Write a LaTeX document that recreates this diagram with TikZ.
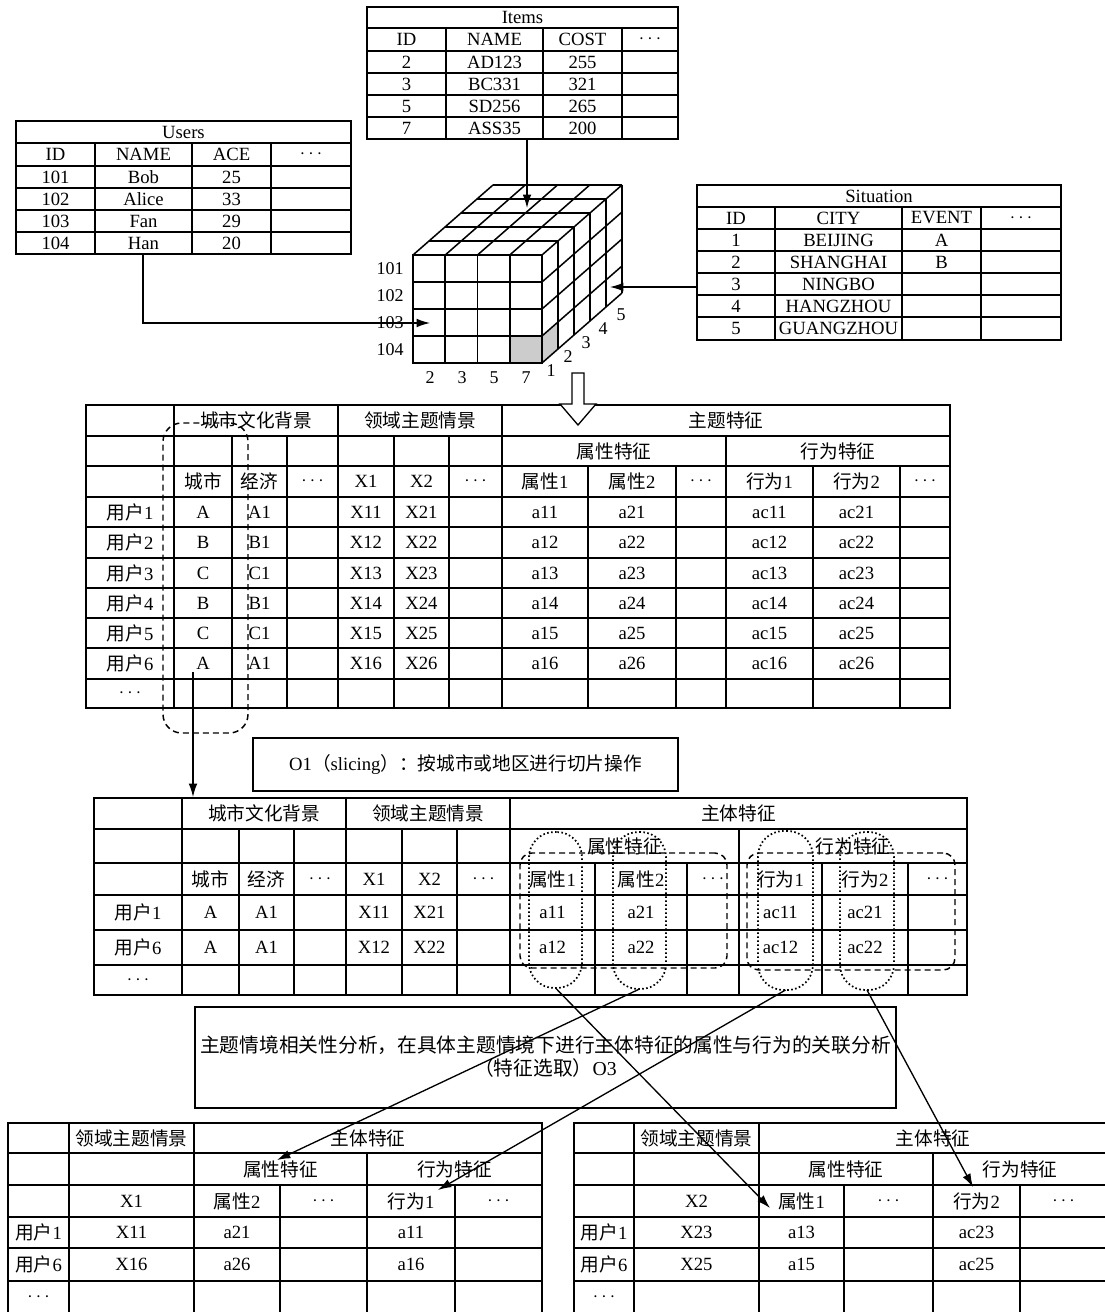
\documentclass[tikz,border=0pt]{standalone}
\usepackage{fontspec}
\setmainfont{Liberation Serif}
\newfontfamily\cjk{Noto Sans CJK SC}
\usetikzlibrary{arrows.meta}
\newcommand\zh[1]{{\cjk #1}}
\newcommand\dd{$\cdots$}
\newcounter{cellno}
\newcommand\tc[3]{\stepcounter{cellno}\node[cell] (cell\arabic{cellno}) at (#1,#2) {#3};}
% name, style, x1, y1, x2, y2 (pixel coordinates)
\newcommand\pxbox[6]{\node[#2, minimum width={(#5-#3)*0.75pt}, minimum height={(#6-#4)*0.75pt}, inner sep=0pt, outer sep=0pt] (#1) at ({(#3+#5)/2},{(#4+#6)/2}) {};}
\tikzset{
  cell/.style={font=\fontsize{14}{16}\selectfont, inner sep=0pt},
  cubelbl/.style={font=\fontsize{13.5}{15}\selectfont, inner sep=0pt},
  grid/.style={line width=1.15pt},
  arr/.style={line width=1pt, -{Latex[length=10pt,width=6.5pt]}},
  plainbox/.style={draw, line width=1.15pt},
  dashbox/.style={draw, line width=1.1pt, dash pattern=on 4.5pt off 3pt, rounded corners=9pt},
  dotbox/.style={draw, line width=1.3pt, dash pattern=on 1.2pt off 1.8pt, rounded corners=19pt},
}
\begin{document}
\begin{tikzpicture}[x=0.75pt,y=-0.75pt]
\useasboundingbox (0,0) rectangle (1105,1312);
\clip (0,0) rectangle (1105,1312);
\fill[white] (0,0) rectangle (1105,1312);

% ---------------- Items ----------------
\draw[grid] (367,7) rectangle (678,139);
\foreach \y in {28,51,73,95,117} \draw[grid] (367,\y) -- (678,\y);
\foreach \x in {446,543,622} \draw[grid] (\x,28) -- (\x,139);
\node[cell] (items) at (522.5,17.5) {Items};
\tc{406.5}{39.5}{ID}\tc{494.5}{39.5}{NAME}\tc{582.5}{39.5}{COST}\tc{650}{39.5}{\dd}
\foreach \y/\a/\b/\c in {62/2/AD123/255, 84/3/BC331/321, 106/5/SD256/265, 128/7/ASS35/200}
  {\tc{406.5}{\y}{\a}\tc{494.5}{\y}{\b}\tc{582.5}{\y}{\c}}

% ---------------- Users ----------------
\draw[grid] (16,121) rectangle (351,254);
\foreach \y in {143,166,188,210,232} \draw[grid] (16,\y) -- (351,\y);
\foreach \x in {95,192,271} \draw[grid] (\x,143) -- (\x,254);
\node[cell] (users) at (183.5,132) {Users};
\tc{55.5}{154.5}{ID}\tc{143.5}{154.5}{NAME}\tc{231.5}{154.5}{ACE}\tc{311}{154.5}{\dd}
\foreach \y/\a/\b/\c in {177/101/Bob/25, 199/102/Alice/33, 221/103/Fan/29, 243/104/Han/20}
  {\tc{55.5}{\y}{\a}\tc{143.5}{\y}{\b}\tc{231.5}{\y}{\c}}

% ---------------- Situation ----------------
\draw[grid] (697,185) rectangle (1061,340);
\foreach \y in {207,229,251,273,295,317} \draw[grid] (697,\y) -- (1061,\y);
\foreach \x in {775,902,981} \draw[grid] (\x,207) -- (\x,340);
\node[cell] (situation) at (879,196) {Situation};
\tc{736}{218}{ID}\tc{838.5}{218}{CITY}\tc{941.5}{218}{EVENT}\tc{1021}{218}{\dd}
\foreach \y/\a/\b/\c in {240/1/BEIJING/A, 262/2/SHANGHAI/B, 284/3/NINGBO/, 306/4/HANGZHOU/, 328.5/5/GUANGZHOU/}
  {\tc{736}{\y}{\a}\tc{838.5}{\y}{\b}\tc{941.5}{\y}{\c}}

% ---------------- Cube ----------------
\fill[gray!40] (509.75,336) rectangle (542,363);
\fill[gray!40] (542,336) -- (558,322) -- (558,349) -- (542,363) -- cycle;
\draw[grid] (413,255) rectangle (542,363);
\foreach \i in {1,2,3} \draw[grid] ({413+\i*32.25},255) -- ({413+\i*32.25},363);
\foreach \k in {1,2,3} \draw[grid] (413,{255+\k*27}) -- (542,{255+\k*27});
\foreach \i in {0,...,4} \draw[grid] ({413+\i*32.25},255) -- ({493+\i*32.25},185);
\foreach \j in {1,...,5} \draw[grid] ({413+16*\j},{255-14*\j}) -- ({542+16*\j},{255-14*\j});
\foreach \j in {1,...,5} \draw[grid] ({542+16*\j},{255-14*\j}) -- ({542+16*\j},{363-14*\j});
\foreach \k in {1,...,4} \draw[grid] (542,{255+\k*27}) -- (622,{185+\k*27});
\foreach \t/\y in {101/269,102/296,103/323,104/350} \node[cubelbl] (lbl\t) at (390,\y) {\t};
\foreach \t/\x in {2/430,3/462,5/494,7/526} \node[cubelbl] (lblx\t) at (\x,378) {\t};
\foreach \t/\x/\y in {1/551/371,2/568/357,3/586/343,4/603/329,5/621/315} \node[cubelbl] (lbld\t) at (\x,\y) {\t};

% connectors to cube
\coordinate (itemsOut) at (527,139);
\coordinate (cubeTop) at (527,208);
\coordinate (usersOut) at (143,254);
\coordinate (cubeLeft) at (430,323);
\coordinate (sitOut) at (697,287);
\coordinate (cubeRight) at (610,287);
\draw[arr] (itemsOut) -- (cubeTop);
\draw[arr] (usersOut) |- (cubeLeft);
\draw[arr] (sitOut) -- (cubeRight);

% ---------------- Main table T1 ----------------
\draw[grid] (86,405) rectangle (950,708);
\foreach \y in {436,466,497,527,558,588,618,648,679} \draw[grid] (86,\y) -- (950,\y);
\foreach \x in {174,338,502} \draw[grid] (\x,405) -- (\x,708);
\foreach \x in {232,287,394,449,726} \draw[grid] (\x,436) -- (\x,708);
\foreach \x in {588,676,813,900} \draw[grid] (\x,466) -- (\x,708);
\tc{256}{420.5}{\zh{城市文化背景}}
\tc{420}{420.5}{\zh{领域主题情景}}
\tc{726}{420.5}{\zh{主题特征}}
\tc{614}{451}{\zh{属性特征}}
\tc{838}{451}{\zh{行为特征}}
\tc{203}{481.5}{\zh{城市}}\tc{259.5}{481.5}{\zh{经济}}\tc{312.5}{481.5}{\dd}
\tc{366}{481.5}{X1}\tc{421.5}{481.5}{X2}\tc{475.5}{481.5}{\dd}
\tc{545}{481.5}{\zh{属性}1}\tc{632}{481.5}{\zh{属性}2}\tc{701}{481.5}{\dd}
\tc{769.5}{481.5}{\zh{行为}1}\tc{856.5}{481.5}{\zh{行为}2}\tc{925}{481.5}{\dd}
\foreach \r/\y/\L in {1/512/A, 2/542.5/B, 3/573/C, 4/603/B, 5/633/C, 6/663.5/A}
{ \tc{130}{\y}{\zh{用户}\r}
  \tc{203}{\y}{\L}\tc{259.5}{\y}{\L1}
  \tc{366}{\y}{X1\r}\tc{421.5}{\y}{X2\r}
  \tc{545}{\y}{a1\r}\tc{632}{\y}{a2\r}
  \tc{769.5}{\y}{ac1\r}\tc{856.5}{\y}{ac2\r}}
\tc{130}{693.5}{\dd}

% block arrow cube -> T1
\draw[fill=white, line width=1pt] (572,373) -- (584,373) -- (584,404) -- (596,404) -- (578,425) -- (560,404) -- (572,404) -- cycle;

% slicing selection
\pxbox{slice}{dashbox, rounded corners=14pt}{163}{423}{248}{733}
\coordinate (sliceOut) at (193,672);
\coordinate (t2In) at (193,797);
\draw[arr] (sliceOut) -- (t2In);

% O1 box
\pxbox{o1}{plainbox}{253}{738}{678}{791}
\node[cell] (o1text) at (465.5,764.5) {O1\zh{（}slicing\zh{）：按城市或地区进行切片操作}};

% ---------------- T2 ----------------
\draw[grid] (94,798) rectangle (967,995);
\foreach \y in {829,863,895,930,965} \draw[grid] (94,\y) -- (967,\y);
\foreach \x in {182,346,510} \draw[grid] (\x,798) -- (\x,995);
\foreach \x in {239,294,402,457,739} \draw[grid] (\x,829) -- (\x,995);
\foreach \x in {595,687,822,908} \draw[grid] (\x,863) -- (\x,995);
\tc{264}{813.5}{\zh{城市文化背景}}
\tc{428}{813.5}{\zh{领域主题情景}}
\tc{738.5}{813.5}{\zh{主体特征}}
\tc{624.5}{846}{\zh{属性特征}}
\tc{853}{846}{\zh{行为特征}}
\tc{210.5}{879}{\zh{城市}}\tc{266.5}{879}{\zh{经济}}\tc{320}{879}{\dd}
\tc{374}{879}{X1}\tc{429.5}{879}{X2}\tc{483.5}{879}{\dd}
\tc{552.5}{879}{\zh{属性}1}\tc{641}{879}{\zh{属性}2}\tc{713}{879}{\dd}
\tc{780.5}{879}{\zh{行为}1}\tc{865}{879}{\zh{行为}2}\tc{937.5}{879}{\dd}
\foreach \r/\y/\n in {1/912.5/1, 6/947.5/2}
{ \tc{138}{\y}{\zh{用户}\r}
  \tc{210.5}{\y}{A}\tc{266.5}{\y}{A1}
  \tc{374}{\y}{X1\n}\tc{429.5}{\y}{X2\n}
  \tc{552.5}{\y}{a1\n}\tc{641}{\y}{a2\n}
  \tc{780.5}{\y}{ac1\n}\tc{865}{\y}{ac2\n}}
\tc{138}{980}{\dd}

\pxbox{gA}{dashbox}{520}{853}{727}{968}
\pxbox{gB}{dashbox}{747}{853}{955}{970}
\pxbox{pA1}{dotbox}{529}{832}{582}{988}
\pxbox{pA2}{dotbox}{613}{832}{666}{989}
\pxbox{pB1}{dotbox}{758}{831}{813}{990}
\pxbox{pB2}{dotbox}{840}{832}{894}{990}

% O3 box
\pxbox{o3}{plainbox}{195}{1007}{896}{1108}
\node[cell, font=\fontsize{14.8}{17}\selectfont] (o3a) at (545.5,1045) {\zh{主题情境相关性分析，在具体主题情境下进行主体特征的属性与行为的关联分析}};
\node[cell, font=\fontsize{14.8}{17}\selectfont] (o3b) at (545.5,1068) {\zh{（特征选取）}O3};

% ---------------- Bottom-left ----------------
\draw[grid] (8,1123) rectangle (542,1313);
\foreach \y in {1153,1185,1217,1248,1281} \draw[grid] (8,\y) -- (542,\y);
\foreach \x in {69,194} \draw[grid] (\x,1123) -- (\x,1313);
\draw[grid] (367,1153) -- (367,1313);
\foreach \x in {280,455} \draw[grid] (\x,1185) -- (\x,1313);
\tc{131.5}{1138}{\zh{领域主题情景}}\tc{368}{1138}{\zh{主体特征}}
\tc{280.5}{1169}{\zh{属性特征}}\tc{454.5}{1169}{\zh{行为特征}}
\tc{131.5}{1201}{X1}\tc{237}{1201}{\zh{属性}2}\tc{323.5}{1201}{\dd}\tc{411}{1201}{\zh{行为}1}\tc{498.5}{1201}{\dd}
\tc{38.5}{1232.5}{\zh{用户}1}\tc{131.5}{1232.5}{X11}\tc{237}{1232.5}{a21}\tc{411}{1232.5}{a11}
\tc{38.5}{1264.5}{\zh{用户}6}\tc{131.5}{1264.5}{X16}\tc{237}{1264.5}{a26}\tc{411}{1264.5}{a16}
\tc{38.5}{1297}{\dd}

% ---------------- Bottom-right ----------------
\draw[grid] (574,1123) rectangle (1107,1313);
\foreach \y in {1153,1185,1217,1248,1281} \draw[grid] (574,\y) -- (1107,\y);
\foreach \x in {634,759} \draw[grid] (\x,1123) -- (\x,1313);
\draw[grid] (933,1153) -- (933,1313);
\foreach \x in {844,1020} \draw[grid] (\x,1185) -- (\x,1313);
\tc{696.5}{1138}{\zh{领域主题情景}}\tc{933}{1138}{\zh{主体特征}}
\tc{846}{1169}{\zh{属性特征}}\tc{1020}{1169}{\zh{行为特征}}
\tc{696.5}{1201}{X2}\tc{801.5}{1201}{\zh{属性}1}\tc{888.5}{1201}{\dd}\tc{976.5}{1201}{\zh{行为}2}\tc{1063.5}{1201}{\dd}
\tc{604}{1232.5}{\zh{用户}1}\tc{696.5}{1232.5}{X23}\tc{801.5}{1232.5}{a13}\tc{976.5}{1232.5}{ac23}
\tc{604}{1264.5}{\zh{用户}6}\tc{696.5}{1264.5}{X25}\tc{801.5}{1264.5}{a15}\tc{976.5}{1264.5}{ac25}
\tc{604}{1297}{\dd}

% ---------------- feature selection connectors ----------------
\coordinate (blAttr) at (277,1160);
\coordinate (blBeh) at (438,1190);
\coordinate (brAttr) at (770,1208);
\coordinate (brBeh) at (973,1187);
\draw[arr] (pA1.south) -- (brAttr);
\draw[arr] (pA2.south) -- (blAttr);
\draw[arr] (pB1.south) -- (blBeh);
\draw[arr] (pB2.south) -- (brBeh);
\end{tikzpicture}
\end{document}
